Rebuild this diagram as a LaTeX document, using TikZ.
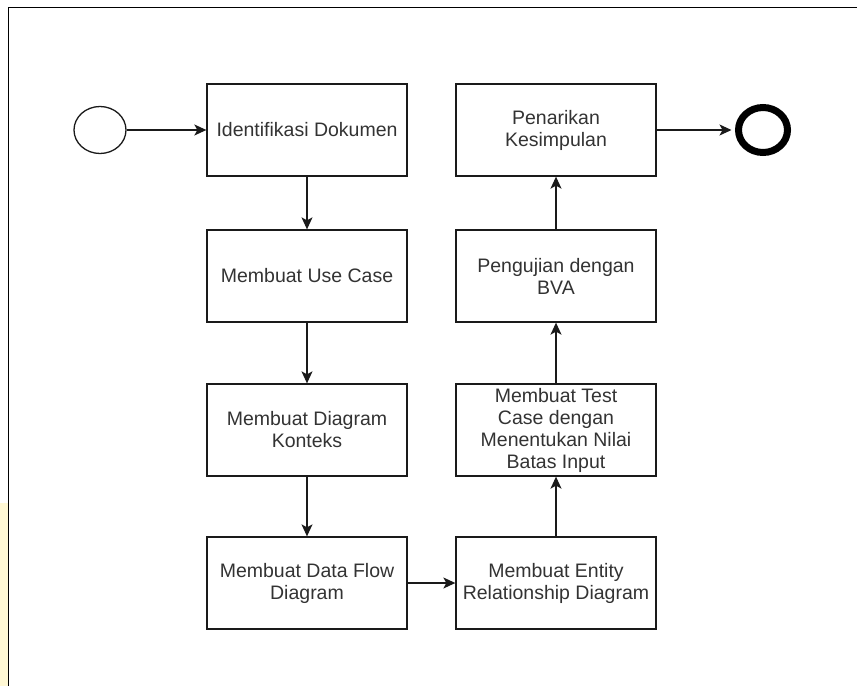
\documentclass[tikz,border=0pt]{standalone}
\usepackage{fontspec}
\setmainfont{Liberation Sans}
\usetikzlibrary{arrows.meta,shapes.geometric}
\definecolor{txt}{HTML}{333333}
\definecolor{ln}{HTML}{1A1A1A}
\definecolor{strip}{HTML}{FFF8D4}
\begin{document}
\begin{tikzpicture}[x=1pt,y=-1pt,
  proc/.style={draw=ln, line width=1.3pt, minimum width=200pt, minimum height=92pt, inner sep=0pt, align=center, text=txt, font=\fontsize{19.5}{22}\selectfont},
  conn/.style={draw=ln, line width=1.3pt, -{Stealth[length=12pt,width=11pt,inset=3pt]}}]
\useasboundingbox (0,0) rectangle (857,686);
\fill[white] (0,0) rectangle (857,686);
\fill[strip] (0,503) rectangle (7.5,686);
\draw[line width=1.8pt, black] (8.5,686) -- (8.5,7.5) -- (857,7.5);
\node[proc] (a) at (307,130) {Identifikasi Dokumen};
\node[proc] (b) at (307,276) {Membuat Use Case};
\node[proc] (c) at (307,430) {Membuat Diagram\\Konteks};
\node[proc] (d) at (307,583) {Membuat Data Flow\\Diagram};
\node[proc] (e) at (556,583) {Membuat Entity\\Relationship Diagram};
\node[proc] (f) at (556,430) {Membuat Test\\Case dengan\\Menentukan Nilai\\Batas Input};
\node[proc] (g) at (556,276) {Pengujian dengan\\BVA};
\node[proc] (h) at (556,130) {Penarikan\\Kesimpulan};
\node[draw=ln, line width=1.3pt, ellipse, minimum width=52pt, minimum height=47pt, inner sep=0pt] (s) at (100,130) {};
\node[draw=black, line width=7pt, ellipse, minimum width=49pt, minimum height=45pt, inner sep=0pt] (t) at (763,130) {};
\draw[conn] (s) -- (a);
\draw[conn] (a) -- (b);
\draw[conn] (b) -- (c);
\draw[conn] (c) -- (d);
\draw[conn] (d) -- (e);
\draw[conn] (e) -- (f);
\draw[conn] (f) -- (g);
\draw[conn] (g) -- (h);
\draw[conn, shorten >=3.5pt] (h) -- (t);
\end{tikzpicture}
\end{document}
